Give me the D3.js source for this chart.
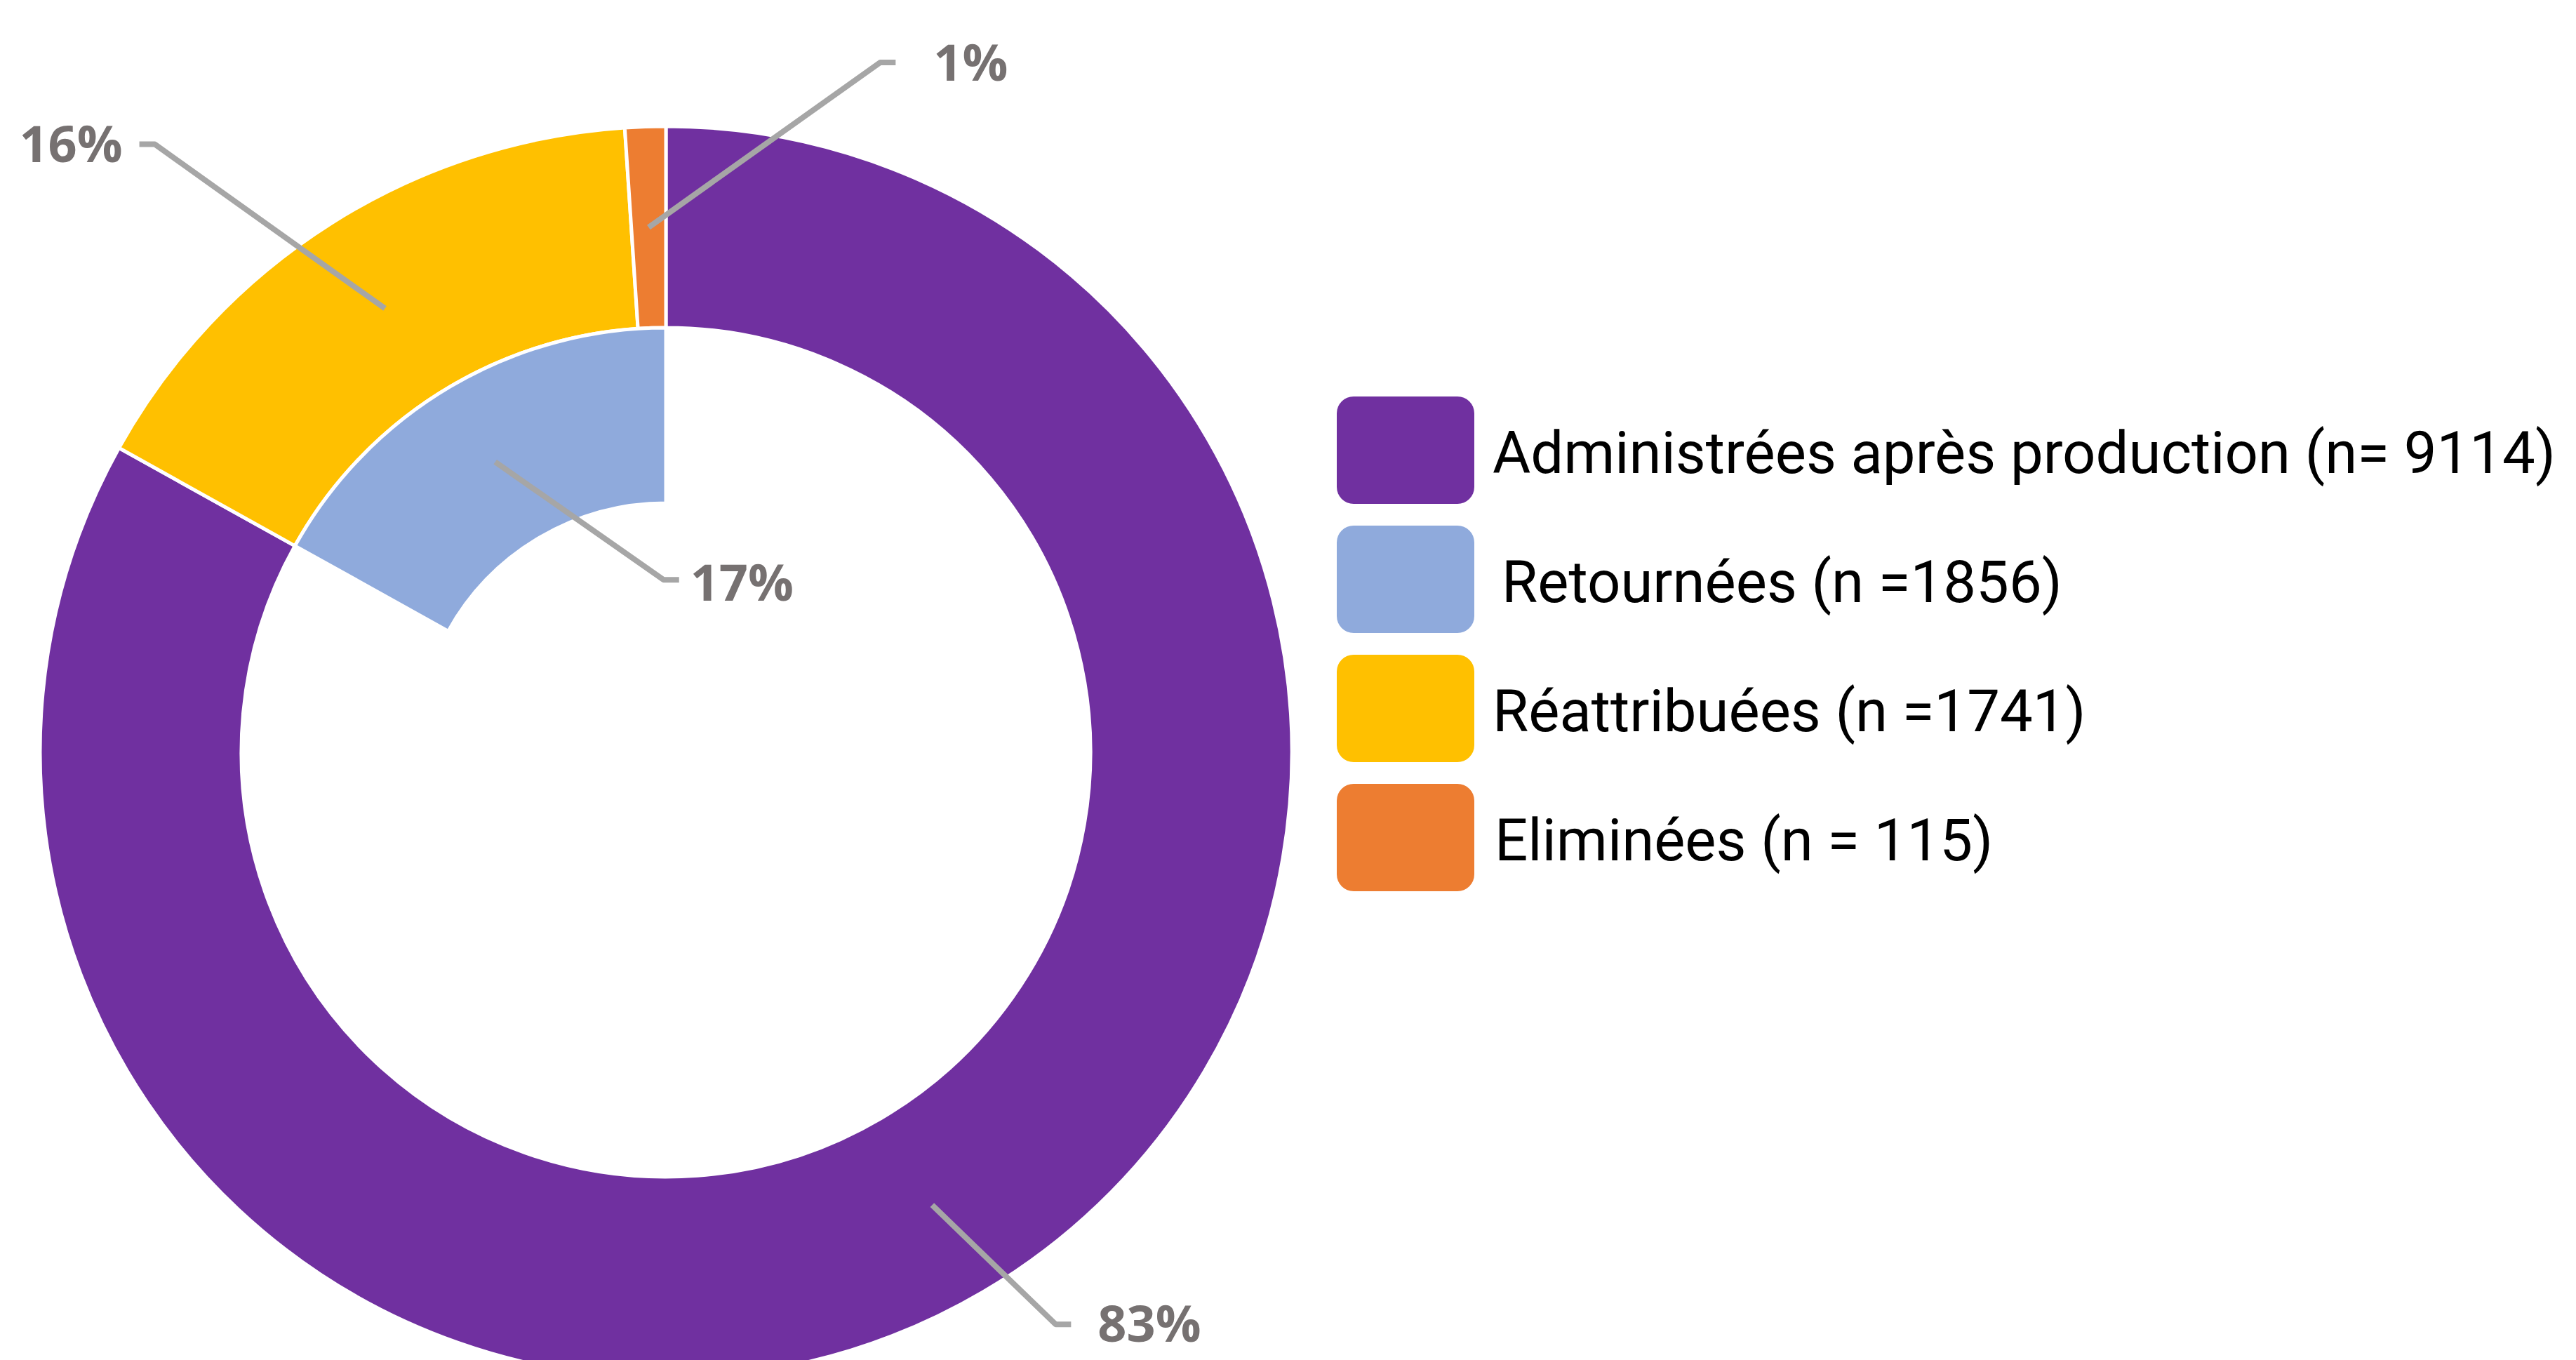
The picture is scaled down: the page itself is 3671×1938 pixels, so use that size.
<!DOCTYPE html>
<html>
<head>
<meta charset="utf-8">
<script src="https://cdn.jsdelivr.net/npm/d3@7"></script>
<style>
  html, body { margin: 0; padding: 0; background: #ffffff; }
  svg { display: block; }
</style>
</head>
<body>
<svg id="chart" width="3671" height="1938"></svg>
<script>
// ---- data ----
const categories = ["Administrées après production", "Retournées", "Réattribuées", "Eliminées"];
const counts = [9114, 1856, 1741, 115];
const legendLabels = ["Administrées après production (n= 9114)", "Retournées (n =1856)", "Réattribuées (n =1741)", "Eliminées (n = 115)"];
const pctLabels = ["83%", "17%", "16%", "1%"];
const ringOf = ["outer", "inner", "outer", "outer"];

// ---- styles / layout ----
const colors = ["#7030a0", "#8faadc", "#ffc000", "#ed7d31"];
const cx = 949, cy = 1072;
const rOuter = 892, rMid = 605, rInner = 355;
// elbow offset from slice centroid, horizontal tail direction, text gap, baseline offset
const labelLayout = [
  { dx: 176, dy: 170, dir: 1, gap: 38, base: 25 },
  { dx: 240, dy: 168, dir: 1, gap: 16, base: 30 },
  { dx: -328, dy: -234, dir: -1, gap: 24, base: 25 },
  { dx: 330, dy: -235, dir: 1, gap: 54, base: 26 }
];

const svg = d3.select("#chart");
const total = d3.sum(counts.filter((d, i) => ringOf[i] === "outer"));

// outer ring: purple, yellow, orange clockwise from 12 o'clock
const outerIdx = [0, 2, 3];
const outerPie = d3.pie().sort(null).value(i => counts[i]).startAngle(0).endAngle(2 * Math.PI);
const outerArcs = outerPie(outerIdx);

// inner ring: hidden remainder then blue, ending at 12 o'clock
const innerPie = d3.pie().sort(null).value(d => d.v).startAngle(0).endAngle(2 * Math.PI);
const innerArcs = innerPie([{ v: total - counts[1], idx: -1 }, { v: counts[1], idx: 1 }]);

const arcOuter = d3.arc().innerRadius(rMid).outerRadius(rOuter);
const arcInner = d3.arc().innerRadius(rInner).outerRadius(rMid);

const g = svg.append("g").attr("transform", `translate(${cx},${cy})`);

g.selectAll("path.outer").data(outerArcs).enter().append("path")
  .attr("class", "outer")
  .attr("d", arcOuter)
  .attr("fill", d => colors[d.data])
  .attr("stroke", "#ffffff").attr("stroke-width", 5).attr("stroke-linejoin", "round");

g.selectAll("path.inner").data(innerArcs.filter(d => d.data.idx >= 0)).enter().append("path")
  .attr("class", "inner")
  .attr("d", arcInner)
  .attr("fill", d => colors[d.data.idx])
  .attr("stroke", "#ffffff").attr("stroke-width", 5).attr("stroke-linejoin", "round");

// centroids per category
const centroids = {};
outerArcs.forEach(d => { centroids[d.data] = arcOuter.centroid(d); });
innerArcs.filter(d => d.data.idx >= 0).forEach(d => { centroids[d.data.idx] = arcInner.centroid(d); });

// leader lines + labels
categories.forEach((c, i) => {
  const [px, py] = centroids[i];
  const L = labelLayout[i];
  const ex = px + L.dx, ey = py + L.dy;
  const tx = ex + L.dir * 22;
  g.append("path")
    .attr("d", d3.line()([[px, py], [ex, ey], [tx, ey]]))
    .attr("fill", "none")
    .attr("stroke", "#a6a6a6")
    .attr("stroke-width", 8)
    .attr("stroke-linejoin", "round");
  g.append("text")
    .attr("x", tx + L.dir * L.gap)
    .attr("y", ey + L.base)
    .attr("text-anchor", L.dir > 0 ? "start" : "end")
    .attr("font-family", "'Open Sans', 'Noto Sans', sans-serif")
    .attr("font-weight", 700)
    .attr("font-size", 72)
    .attr("fill", "#767171")
    .text(pctLabels[i]);
});

// legend
const legendX = 1905, legendY0 = 565, legendStep = 184;
const sw = 196, sh = 153;
const legendTextX = [2127, 2140, 2127, 2130];
const firstTargetWidth = 1515;
const leg = svg.append("g");
const texts = [];
legendLabels.forEach((lab, i) => {
  const y = legendY0 + i * legendStep;
  leg.append("rect")
    .attr("x", legendX).attr("y", y)
    .attr("width", sw).attr("height", sh)
    .attr("rx", 24).attr("ry", 24)
    .attr("fill", colors[i]);
  texts.push(leg.append("text")
    .attr("x", legendTextX[i])
    .attr("y", y + sh / 2 + 32)
    .attr("font-family", "Roboto, 'Open Sans', sans-serif")
    .attr("font-size", 86)
    .attr("fill", "#000000")
    .text(lab));
});
// fit font size so the longest entry spans the measured width
const natural = texts[0].node().getComputedTextLength();
const fs = Math.min(90, 86 * firstTargetWidth / natural);
texts.forEach(t => t.attr("font-size", fs));
</script>
</body>
</html>
